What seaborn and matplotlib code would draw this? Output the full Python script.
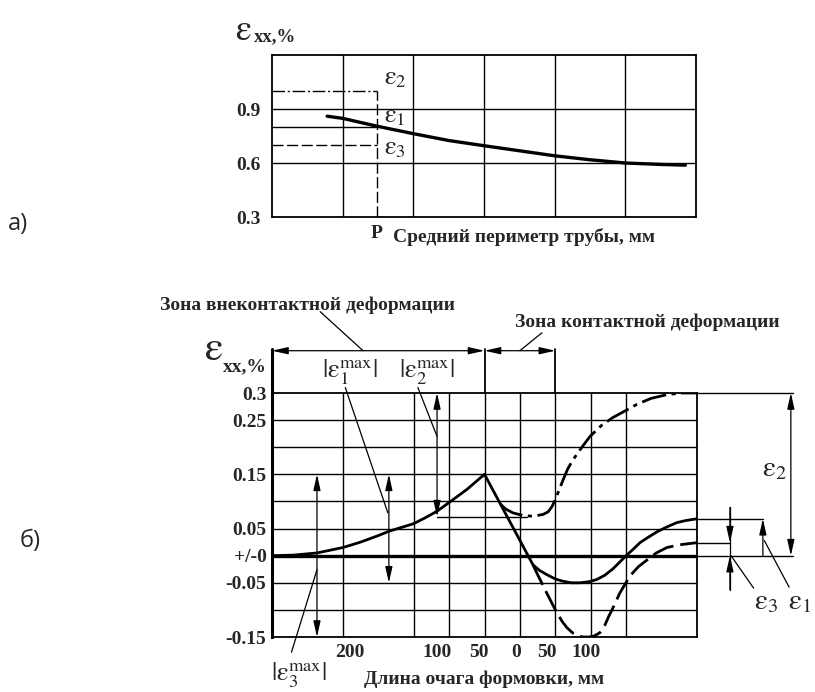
import matplotlib
matplotlib.use("Agg")
import matplotlib.pyplot as plt
import pandas as pd
import seaborn as sns

# ---------------- panel a) data ----------------
top_curve_x = [0.78, 1.0, 1.48, 2.0, 2.5, 3.0, 3.5, 4.0, 4.5, 5.0, 5.5, 5.85]
top_curve_y = [0.86, 0.848, 0.805, 0.763, 0.725, 0.696, 0.668, 0.64, 0.618, 0.60, 0.592, 0.588]
top_levels = {"eps2": 1.0, "eps1": 0.8, "eps3": 0.7}
top_P = 1.48
top_grid_x = [1, 2, 3, 4, 5]
top_grid_y = [0.6, 0.9]
top_yticks = [0.3, 0.6, 0.9]
top_yticklabels = ["0.3", "0.6", "0.9"]

# ---------------- panel б) data ----------------
rise_x = [0, 0.6, 1.27, 2.0, 2.5, 3.0, 3.3, 3.6, 4.0, 4.33, 4.66, 5.0, 5.5, 6.0]
rise_y = [0, 0.001, 0.005, 0.015, 0.025, 0.037, 0.045, 0.051, 0.059, 0.07, 0.082, 0.098, 0.122, 0.15]
eps1_x = [6.0, 7.37, 7.55, 7.76, 8.0, 8.2, 8.45, 8.7, 8.95, 9.17, 9.4, 9.63, 9.8, 10.0,
          10.2, 10.39, 10.6, 10.87, 11.15, 11.43, 11.7, 12.0]
eps1_y = [0.15, -0.017, -0.027, -0.035, -0.043, -0.047, -0.05, -0.05, -0.048, -0.044, -0.036,
          -0.024, -0.013, 0.0, 0.012, 0.024, 0.033, 0.044, 0.053, 0.061, 0.065, 0.068]
eps3_x = [7.37, 7.47, 7.75, 8.04, 8.2, 8.33, 8.5, 8.65, 8.78, 8.95, 9.1, 9.26, 9.4, 9.5, 9.6,
          9.82, 10.1, 10.35, 10.59, 10.85, 11.15, 11.5, 12.0]
eps3_y = [-0.017, -0.031, -0.068, -0.105, -0.122, -0.133, -0.143, -0.148, -0.15, -0.15, -0.148,
          -0.142, -0.128, -0.113, -0.1, -0.069, -0.038, -0.02, -0.008, 0.005, 0.015, 0.02, 0.024]
eps2_x = [6.45, 6.6, 6.8, 7.09, 7.3, 7.48, 7.65, 7.8, 7.9, 8.0, 8.1, 8.22, 8.35, 8.5, 8.75,
          8.98, 9.3, 9.63, 10.0, 10.3, 10.7, 11.15, 11.6, 12.0]
eps2_y = [0.095, 0.086, 0.079, 0.074, 0.073, 0.074, 0.076, 0.081, 0.09, 0.103, 0.12, 0.14,
          0.16, 0.177, 0.2, 0.22, 0.24, 0.255, 0.268, 0.279, 0.29, 0.297, 0.3, 0.3]

bot_grid_x = [2, 4, 5, 6, 7, 8, 9, 10]
bot_grid_y = [-0.1, -0.05, 0.05, 0.1, 0.15, 0.2, 0.25]
bot_xticks = [2.2, 4.66, 5.84, 6.89, 7.76, 8.86]
bot_xticklabels = ["200", "100", "50", "0", "50", "100"]
bot_yticks = [0.3, 0.25, 0.15, 0.05, 0.0, -0.05, -0.15]
bot_yticklabels = ["0.3", "0.25", "0.15", "0.05", "+/-0", "-0.05", "-0.15"]

sns.set_style("white")
plt.rcParams["font.family"] = ["Liberation Serif", "DejaVu Serif"]
plt.rcParams["font.weight"] = "normal"
plt.rcParams["mathtext.fontset"] = "stix"

fig = plt.figure(figsize=(8.15, 6.92), dpi=100)
W, H = 815, 692
def fx(px):
    return px / W
def fy(py):
    return 1 - py / H

TS = 14
BW = "bold"
LW = 1.0
DASH = (0, (8, 2.5))
DASHDOT = (0, (9, 2, 1.5, 2))
arrow2 = dict(arrowstyle="<|-|>,head_length=0.8,head_width=0.18", color="black",
              lw=0.9, shrinkA=0, shrinkB=0, mutation_scale=12)
arrow1 = dict(arrowstyle="-|>,head_length=0.8,head_width=0.18", color="black",
              lw=0.9, shrinkA=0, shrinkB=0, mutation_scale=12)
EPS = r"\mathrm{\varepsilon}"

def bold_ticks(ax):
    for lab in ax.get_xticklabels() + ax.get_yticklabels():
        lab.set_fontweight(BW)

# ================= panel a =================
ax1 = fig.add_axes([fx(272), fy(217), fx(696) - fx(272), fy(55) - fy(217)])
ax1.set_xlim(0, 6)
ax1.set_ylim(0.3, 1.2)
for gx in top_grid_x:
    ax1.axvline(gx, color="black", lw=LW, zorder=1)
for gy in top_grid_y:
    ax1.axhline(gy, color="black", lw=LW, zorder=1)
df_top = pd.DataFrame({"x": top_curve_x, "y": top_curve_y})
sns.lineplot(data=df_top, x="x", y="y", ax=ax1, color="black", lw=2.4,
             estimator=None, sort=False, zorder=3)
ax1.hlines(top_levels["eps2"], 0, top_P, colors="black", lw=LW, linestyles=[DASHDOT])
ax1.hlines(top_levels["eps1"], 0, top_P, colors="black", lw=LW)
ax1.hlines(top_levels["eps3"], 0, top_P, colors="black", lw=LW, linestyles=[DASH])
ax1.vlines(top_P, 0.3, top_levels["eps2"], colors="black", lw=LW, linestyles=[DASH])
ax1.text(1.74, 1.065, rf"${EPS}_2$", fontsize=19, ha="center", va="center")
ax1.text(1.74, 0.855, rf"${EPS}_1$", fontsize=19, ha="center", va="center")
ax1.text(1.74, 0.675, rf"${EPS}_3$", fontsize=19, ha="center", va="center")
ax1.set_yticks(top_yticks, top_yticklabels)
ax1.set_xticks([top_P], ["P"])
ax1.tick_params(axis="both", length=0, labelsize=TS)
ax1.tick_params(axis="y", pad=8)
ax1.tick_params(axis="x", pad=6)
bold_ticks(ax1)
ax1.text(1.71, 0.19, "Средний периметр трубы, мм", fontsize=TS, ha="left", va="center",
         weight=BW)
ax1.set_xlabel("")
ax1.set_ylabel("")
for s in ax1.spines.values():
    s.set_linewidth(1.3)
    s.set_color("black")
fig.text(fx(243), fy(31), rf"${EPS}$", fontsize=26, ha="center", va="center")
fig.text(fx(254), fy(37), "xx,%", fontsize=13.5, ha="left", va="center", weight=BW)
fig.text(fx(8), fy(224), "а)", fontsize=17, ha="left", va="center", family="Open Sans")

# ================= panel б =================
ax2 = fig.add_axes([fx(272), fy(637), fx(697) - fx(272), fy(393) - fy(637)])
ax2.set_xlim(0, 12)
ax2.set_ylim(-0.15, 0.3)
for gx in bot_grid_x:
    ax2.axvline(gx, color="black", lw=LW, zorder=1)
for gy in bot_grid_y:
    ax2.axhline(gy, color="black", lw=LW, zorder=1)
ax2.axhline(0, color="black", lw=2.4, zorder=2)

sns.lineplot(x=rise_x, y=rise_y, ax=ax2, color="black", lw=2.0, estimator=None, sort=False, zorder=3)
sns.lineplot(x=eps1_x, y=eps1_y, ax=ax2, color="black", lw=2.0, estimator=None, sort=False, zorder=3)
sns.lineplot(x=eps3_x, y=eps3_y, ax=ax2, color="black", lw=2.0, estimator=None, sort=False,
             zorder=3, linestyle=DASH)
sns.lineplot(x=eps2_x, y=eps2_y, ax=ax2, color="black", lw=2.0, estimator=None, sort=False,
             zorder=3, linestyle=DASHDOT)

ax2.set_xticks(bot_xticks, bot_xticklabels)
ax2.set_yticks(bot_yticks, bot_yticklabels)
ax2.tick_params(axis="both", length=0, labelsize=TS)
ax2.tick_params(axis="y", pad=4)
ax2.tick_params(axis="x", pad=5)
bold_ticks(ax2)
ax2.set_xlabel("")
ax2.set_ylabel("")
for s in ax2.spines.values():
    s.set_linewidth(1.3)
    s.set_color("black")
ax2.spines["left"].set_linewidth(2.2)
ax2.text(6.0, -0.228, "Длина очага формовки, мм", fontsize=TS, ha="center", va="center",
         weight=BW)

# zone dimension lines above the plot
dim_y = 0.378
for vx in [0, 6, 8]:
    ax2.plot([vx, vx], [0.3, dim_y + 0.004], color="black", lw=1.3 if vx else 2.2, clip_on=False)
ax2.annotate("", xy=(0, dim_y), xytext=(6, dim_y), arrowprops=arrow2, annotation_clip=False)
ax2.annotate("", xy=(6, dim_y), xytext=(8, dim_y), arrowprops=arrow2, annotation_clip=False)
ax2.plot([1.36, 2.57], [0.45, dim_y], color="black", lw=0.9, clip_on=False)
ax2.plot([7.62, 7.0], [0.411, dim_y], color="black", lw=0.9, clip_on=False)
fig.text(fx(307), fy(305), "Зона внеконтактной деформации", fontsize=14, ha="center",
         va="center", weight=BW)
fig.text(fx(647), fy(322), "Зона контактной деформации", fontsize=14, ha="center",
         va="center", weight=BW)
fig.text(fx(213), fy(350), rf"${EPS}$", fontsize=30, ha="center", va="center")
fig.text(fx(223), fy(367), "xx,%", fontsize=14, ha="left", va="center", weight=BW)
fig.text(fx(20), fy(541), "б)", fontsize=17, ha="left", va="center", family="Open Sans")

# |eps max| labels
ax2.text(2.2, 0.338, rf"$|{EPS}_1^{{\mathrm{{max}}}}|$", fontsize=19, ha="center", va="center")
ax2.text(4.38, 0.338, rf"$|{EPS}_2^{{\mathrm{{max}}}}|$", fontsize=19, ha="center", va="center")
ax2.text(0.75, -0.22, rf"$|{EPS}_3^{{\mathrm{{max}}}}|$", fontsize=19, ha="center", va="center")
# leaders
ax2.plot([2.07, 3.27], [0.31, 0.079], color="black", lw=0.9, clip_on=False)
ax2.plot([4.12, 4.66], [0.31, 0.22], color="black", lw=0.9, clip_on=False)
ax2.plot([0.55, 1.27], [-0.178, -0.026], color="black", lw=0.9, clip_on=False)
# double arrows
ax2.annotate("", xy=(1.27, 0.15), xytext=(1.27, -0.15), arrowprops=arrow2)
ax2.annotate("", xy=(3.3, 0.15), xytext=(3.3, -0.05), arrowprops=arrow2)
ax2.annotate("", xy=(4.66, 0.3), xytext=(4.66, 0.072), arrowprops=arrow2)
ax2.plot([4.66, 7.2], [0.072, 0.072], color="black", lw=LW)

# right side dimensions
ax2.plot([12, 14.7], [0.3, 0.3], color="black", lw=LW, clip_on=False)
ax2.plot([12, 14.7], [0.0, 0.0], color="black", lw=LW, clip_on=False)
ax2.plot([12, 13.86], [0.068, 0.068], color="black", lw=LW, clip_on=False)
ax2.plot([12, 12.93], [0.024, 0.024], color="black", lw=LW, clip_on=False)
ax2.annotate("", xy=(14.65, 0.3), xytext=(14.65, 0.0), arrowprops=arrow2, annotation_clip=False)
ax2.annotate("", xy=(13.86, 0.068), xytext=(13.86, 0.0), arrowprops=arrow1, annotation_clip=False)
ax2.plot([12.93, 12.93], [-0.063, 0.089], color="black", lw=0.9, clip_on=False)
ax2.annotate("", xy=(12.93, 0.024), xytext=(12.93, 0.089), arrowprops=arrow1, annotation_clip=False)
ax2.annotate("", xy=(12.93, 0.0), xytext=(12.93, -0.063), arrowprops=arrow1, annotation_clip=False)
ax2.plot([12.96, 13.6], [0.0, -0.06], color="black", lw=0.9, clip_on=False)
ax2.plot([13.9, 14.6], [0.028, -0.058], color="black", lw=0.9, clip_on=False)
ax2.text(14.2, 0.159, rf"${EPS}_2$", fontsize=21, ha="center", va="center")
ax2.text(13.95, -0.086, rf"${EPS}_3$", fontsize=21, ha="center", va="center")
ax2.text(14.9, -0.086, rf"${EPS}_1$", fontsize=21, ha="center", va="center")

fig.savefig("out.png", dpi=100, facecolor="white")
